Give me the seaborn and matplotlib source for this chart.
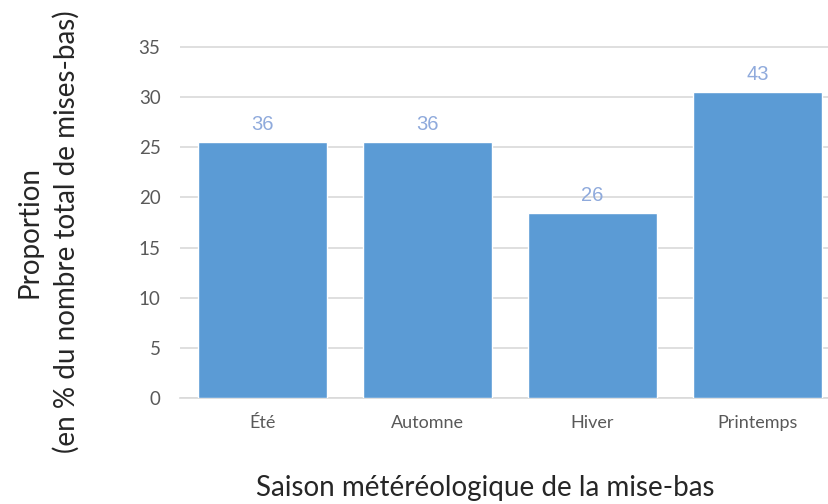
import matplotlib
matplotlib.use("Agg")
import matplotlib.pyplot as plt
import seaborn as sns
import pandas as pd

# data
saisons = ["Été", "Automne", "Hiver", "Printemps"]
proportions = [25.5, 25.5, 18.4, 30.5]
effectifs = [36, 36, 26, 43]
y_ticks = [0, 5, 10, 15, 20, 25, 30, 35]

df = pd.DataFrame({"saison": saisons, "proportion": proportions})

sns.set_theme(style="white")
plt.rcParams["font.family"] = ["Lato", "DejaVu Sans"]

fig = plt.figure(figsize=(8.29, 5.04), dpi=100)
ax = fig.add_axes([180 / 829, 1 - 398 / 504, 649 / 829, (398 - 47) / 504 * 36 / 35])

sns.barplot(data=df, x="saison", y="proportion", color="#5B9BD5", saturation=1,
            width=0.78, ax=ax, zorder=3)

# count labels above bars
for i, (p, n) in enumerate(zip(proportions, effectifs)):
    ax.text(i, p + 0.8, str(n), ha="center", va="bottom", fontsize=14.5,
            color="#8FAADC", family=["Liberation Sans", "DejaVu Sans"])

ax.set_ylim(0, 36)
ax.set_xlim(-0.5, 3.5 - 11 / 165)
ax.set_yticks(y_ticks)
ax.yaxis.grid(True, color="#D9D9D9", linewidth=1.2, zorder=0)
ax.set_axisbelow(True)
for side in ["top", "right", "left"]:
    ax.spines[side].set_visible(False)
ax.spines["bottom"].set_color("#D9D9D9")
ax.spines["bottom"].set_linewidth(1.2)
ax.tick_params(axis="y", length=0, pad=14, labelsize=13.5, labelcolor="#595959")
ax.tick_params(axis="x", length=0, pad=12, labelsize=13, labelcolor="#595959")

ax.set_xlabel("")
ax.set_ylabel("")
fig.text(485 / 829, 1 - 488 / 504, "Saison météréologique de la mise-bas",
         ha="center", va="center", fontsize=20)
fig.text(48 / 829, 1 - 232 / 504, "Proportion\n(en % du nombre total de mises-bas)",
         rotation=90, ha="center", va="center", fontsize=20, linespacing=1.45)

fig.savefig("out.png", dpi=100)
